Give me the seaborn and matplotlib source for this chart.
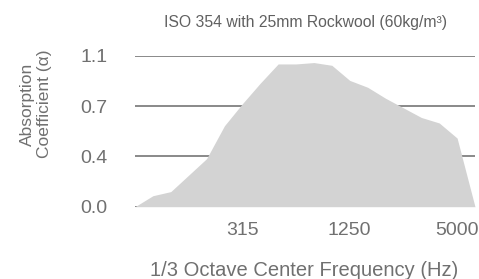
import numpy as np
import pandas as pd
import matplotlib
matplotlib.use("Agg")
import matplotlib.pyplot as plt
import seaborn as sns

# 1/3 octave bands and measured absorption
freqs = ["80", "100", "125", "160", "200", "250", "315", "400", "500", "630",
         "800", "1000", "1250", "1600", "2000", "2500", "3150", "4000", "5000", "6300"]
alpha = [0.0, 0.08, 0.11, 0.23, 0.35, 0.59, 0.75, 0.90, 1.04, 1.04,
         1.05, 1.03, 0.92, 0.87, 0.79, 0.72, 0.65, 0.61, 0.50, 0.0]
shown_ticks = ["315", "1250", "5000"]
title = "ISO 354 with 25mm Rockwool (60kg/m³)"

df = pd.DataFrame({"band": np.arange(len(freqs)), "freq": freqs, "alpha": alpha})

sns.set_theme(style="white")
plt.rcParams["font.family"] = ["Liberation Sans", "DejaVu Sans"]

fig = plt.figure(figsize=(4.79, 2.79), dpi=100)
ax = fig.add_axes([135 / 479, 1 - 206.7 / 279, 340 / 479, 151 / 279])

sns.lineplot(data=df, x="band", y="alpha", color="#d3d3d3", lw=0, ax=ax, zorder=3)
ax.fill_between(df["band"], df["alpha"], color="#d3d3d3", lw=0, zorder=3)

ax.set_xlim(0, len(freqs) - 1)
ax.set_ylim(0, 1.1)
yt = np.linspace(0, 1.1, 4)
ax.set_yticks(yt)
ax.set_yticklabels([f"{v:.1f}" for v in yt])
ax.set_xticks([freqs.index(f) for f in shown_ticks])
ax.set_xticklabels(shown_ticks)
ax.tick_params(axis="y", length=0, pad=20, labelsize=14, colors="#707070")
ax.tick_params(axis="x", length=0, pad=11, labelsize=14, colors="#707070")

ax.yaxis.grid(True, color="#808080", lw=1.3)
ax.xaxis.grid(False)
ax.set_axisbelow(True)
sns.despine(ax=ax, left=True, bottom=True)
ax.set_xlabel("")
ax.set_ylabel("")

fig.text(305 / 479, 1 - 23 / 279, title, ha="center", va="center",
         fontsize=11.3, color="#606060")
fig.text(36 / 479, 1 - 104 / 279, "Absorption\nCoefficient (α)", rotation=90,
         ha="center", va="center", multialignment="center", linespacing=1.1,
         fontsize=12.5, color="#707070")
fig.text(304 / 479, 1 - 270 / 279, "1/3 Octave Center Frequency (Hz)",
         ha="center", va="center", fontsize=14.5, color="#707070")

fig.savefig("out.png", dpi=100)
